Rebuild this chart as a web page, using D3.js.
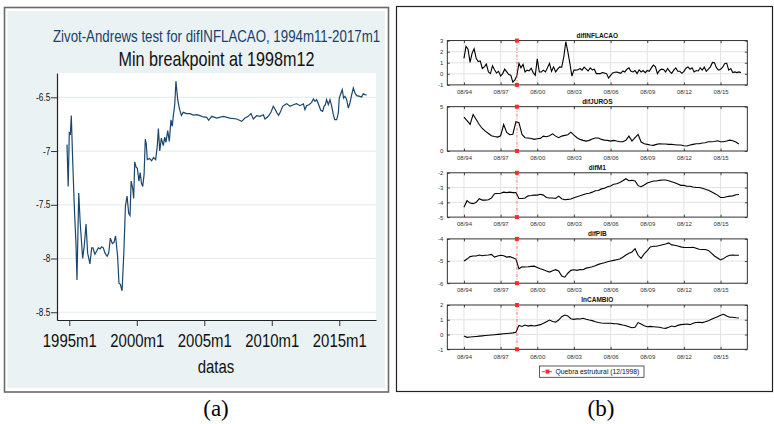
<!DOCTYPE html>
<html>
<head>
<meta charset="utf-8">
<script src="https://cdn.jsdelivr.net/npm/d3@7"></script>
<style>
  body { margin: 0; background: #fff; }
  .narrow { font-family: "Liberation Sans", Arial, sans-serif; }
  .small { font-family: "Liberation Sans", Arial, sans-serif; }
</style>
</head>
<body>
<svg id="fig" width="774" height="424"></svg>
<script>
// ---------- dados do painel (a): estatistica Zivot-Andrews
var zaAnos = [1994.83,1994.92,1995.0,1995.08,1995.15,1995.25,1995.37,1995.5,1995.57,1995.70,1995.81,1995.99,
  1996.11,1996.24,1996.36,1996.53,1996.66,1996.75,1996.90,1997.03,1997.15,1997.28,1997.40,1997.52,1997.65,
  1997.80,1997.92,1998.04,1998.19,1998.31,1998.43,1998.58,1998.68,1998.78,1998.91,1999.04,1999.16,1999.28,
  1999.40,1999.50,1999.58,1999.70,1999.77,1999.85,1999.95,2000.04,2000.16,2000.25,2000.35,2000.44,2000.54,
  2000.63,2000.70,2000.78,2000.95,2001.10,2001.25,2001.40,2001.52,2001.60,2001.70,2001.82,2001.96,2002.07,
  2002.16,2002.29,2002.41,2002.53,2002.63,2002.70,2002.81,2002.90,2003.03,2003.15,2003.30,2003.44,2003.69,
  2003.94,2004.19,2004.43,2004.68,2004.93,2005.18,2005.32,2005.55,2005.92,2006.41,2006.90,2007.40,2007.77,
  2008.01,2008.26,2008.46,2008.63,2008.88,2009.13,2009.37,2009.50,2009.74,2009.94,2010.11,2010.24,2010.36,
  2010.51,2010.66,2010.80,2010.98,2011.10,2011.35,2011.60,2011.84,2012.09,2012.34,2012.46,2012.58,2012.76,
  2012.95,2013.08,2013.20,2013.32,2013.52,2013.62,2013.77,2013.87,2013.97,2014.06,2014.19,2014.31,2014.44,
  2014.56,2014.66,2014.81,2014.93,2015.00,2015.13,2015.22,2015.32,2015.42,2015.55,2015.67,2015.79,2015.92,
  2016.04,2016.16,2016.29,2016.53,2016.66,2016.78,2016.90,2017.03];
var zaEstat = [-6.94,-7.33,-6.83,-6.84,-6.67,-7.08,-7.51,-7.88,-8.20,-7.39,-7.67,-8.00,
  -7.88,-7.68,-7.95,-8.05,-7.90,-7.90,-7.96,-7.93,-7.90,-7.91,-7.89,-7.90,-7.95,
  -7.98,-7.95,-7.81,-7.86,-7.85,-7.79,-7.98,-8.23,-8.24,-8.30,-7.95,-7.51,-7.42,
  -7.58,-7.60,-7.28,-7.35,-7.44,-7.10,-7.15,-7.16,-7.28,-7.20,-7.30,-7.33,-7.22,
  -6.89,-6.93,-7.08,-7.07,-7.09,-7.06,-7.08,-6.95,-6.79,-7.00,-6.88,-6.95,-6.87,
  -6.92,-6.81,-6.91,-6.71,-6.77,-6.68,-6.57,-6.35,-6.52,-6.60,-6.67,-6.64,-6.652,
  -6.652,-6.665,-6.662,-6.671,-6.683,-6.686,-6.714,-6.677,-6.693,-6.677,-6.693,-6.702,-6.724,
  -6.693,-6.677,-6.652,-6.702,-6.671,-6.677,-6.662,-6.702,-6.677,-6.640,-6.584,-6.609,-6.640,
  -6.668,-6.631,-6.584,-6.569,-6.559,-6.584,-6.569,-6.559,-6.578,-6.562,-6.615,-6.578,-6.569,
  -6.547,-6.516,-6.538,-6.522,-6.584,-6.621,-6.631,-6.584,-6.569,-6.522,-6.569,-6.522,-6.584,
  -6.662,-6.708,-6.708,-6.646,-6.507,-6.460,-6.429,-6.507,-6.491,-6.522,-6.600,-6.553,-6.476,
  -6.414,-6.460,-6.485,-6.491,-6.497,-6.466,-6.476,-6.479];
var zaTicksY = [-8.5, -8, -7.5, -7, -6.5];
var zaTicksX = [1995, 2000, 2005, 2010, 2015];

// ---------- dados do painel (b): series a partir de 08/1994
var inicioSerie = 1994 + 7 / 12;
// difINFLACAO bimestral
var difINFLACAO = [1.4,2.48,2.23,1.03,1.86,2.26,1.40,1.10,1.16,0.48,0.63,0.88,0.17,0.02,0.73,0.36,0.08,0.23,
  -0.20,0.02,0.42,0.17,-0.07,-0.13,-0.75,-0.55,-0.14,0.94,0.54,0.85,0.17,0.33,0.26,0.5,0.11,-0.14,1.35,0.17,
  0.17,0.33,0.17,0.54,0.95,0.23,0.63,0.17,0.42,0.63,0.6,1.5,2.9,2.0,0.94,-0.2,0.33,0.33,0.36,0.48,0.33,0.60,
  0.42,0.26,0.54,0.36,0.42,0.02,0.02,0.02,0.11,0.08,0.02,-0.38,-0.14,0.08,0.14,0.17,0.11,0.05,0.26,0.17,0.42,
  0.54,0.23,0.17,0.30,0.02,0.36,0.17,0.30,0.11,0.30,0.23,0.54,0.79,0.63,0.02,0.30,0.42,0.39,0.17,0.48,0.23,
  0.05,0.33,0.54,0.23,0.23,0.05,0.23,0.51,0.63,0.42,0.54,0.17,0.30,0.26,0.54,0.33,0.60,0.23,0.42,0.63,1.03,
  1.0,0.54,0.33,0.42,0.60,0.91,0.97,0.33,0.48,0.11,0.17,0.11,0.17,0.11];
// demais series trimestrais
var difJUROS = [3.81,3.43,3.0,4.11,3.55,2.99,2.54,2.24,1.98,1.72,1.64,1.57,1.72,2.99,2.09,1.83,1.9,3.3,3.2,1.87,
  1.50,1.46,1.42,1.31,1.38,1.42,1.68,1.61,1.72,1.94,1.68,1.50,1.68,1.76,1.83,2.13,1.79,1.50,1.31,1.20,1.12,
  1.20,1.35,1.46,1.46,1.31,1.23,1.20,1.12,1.20,1.12,1.05,1.05,1.20,1.68,1.12,1.50,1.87,1.01,0.82,0.75,0.67,
  0.64,0.75,0.82,0.79,0.79,0.75,0.75,0.71,0.67,0.67,0.60,0.56,0.67,0.75,0.82,0.82,0.90,0.94,1.05,1.05,1.08,
  1.16,1.05,1.05,1.12,1.23,1.16,1.01,0.79];
var difM1 = [-4.34,-3.89,-4.05,-4.09,-4.0,-3.76,-3.85,-3.85,-3.82,-3.71,-3.42,-3.40,-3.38,-3.31,-3.34,-3.31,
  -3.34,-3.34,-3.74,-3.74,-3.71,-3.56,-3.54,-3.51,-3.51,-3.45,-3.51,-3.67,-3.71,-3.71,-3.74,-3.58,-3.76,-3.82,
  -3.80,-3.78,-3.69,-3.62,-3.56,-3.49,-3.42,-3.38,-3.31,-3.22,-3.20,-3.09,-3.05,-2.94,-2.89,-2.78,-2.74,-2.65,
  -2.54,-2.40,-2.54,-2.51,-2.56,-2.87,-2.94,-2.82,-2.69,-2.62,-2.56,-2.56,-2.51,-2.49,-2.49,-2.54,-2.60,-2.67,
  -2.76,-2.85,-2.85,-2.91,-2.91,-2.96,-3.00,-3.00,-3.05,-3.11,-3.18,-3.29,-3.40,-3.51,-3.67,-3.67,-3.62,-3.58,
  -3.56,-3.49,-3.47];
var difPIB = [-5.00,-4.91,-4.80,-4.77,-4.77,-4.73,-4.76,-4.74,-4.73,-4.70,-4.82,-4.77,-4.74,-4.76,-4.82,-4.80,
  -4.85,-4.91,-5.35,-5.26,-5.27,-5.26,-5.24,-5.23,-5.29,-5.35,-5.39,-5.45,-5.50,-5.44,-5.39,-5.45,-5.68,-5.73,
  -5.55,-5.42,-5.39,-5.42,-5.38,-5.39,-5.32,-5.29,-5.26,-5.21,-5.15,-5.11,-5.08,-5.03,-5.00,-4.97,-4.94,-4.91,
  -4.83,-4.73,-4.65,-4.59,-4.44,-4.74,-4.88,-4.67,-4.53,-4.36,-4.33,-4.33,-4.30,-4.26,-4.23,-4.18,-4.27,-4.29,
  -4.32,-4.36,-4.39,-4.39,-4.39,-4.38,-4.42,-4.47,-4.48,-4.48,-4.52,-4.64,-4.77,-4.86,-4.95,-4.89,-4.79,-4.74,
  -4.73,-4.74,-4.74];
var lnCAMBIO = [-0.10,-0.19,-0.17,-0.15,-0.13,-0.11,-0.09,-0.07,-0.05,-0.03,-0.01,0.01,0.03,0.05,0.07,0.09,0.11,
  0.15,0.62,0.55,0.64,0.57,0.62,0.58,0.62,0.67,0.76,0.87,0.98,0.88,0.84,0.98,1.21,1.32,1.26,1.07,1.03,1.07,1.05,
  1.10,1.03,0.98,0.94,0.87,0.82,0.78,0.76,0.76,0.76,0.74,0.73,0.69,0.64,0.60,0.53,0.46,0.49,0.81,0.72,0.60,0.53,
  0.55,0.53,0.51,0.49,0.44,0.42,0.49,0.58,0.53,0.62,0.67,0.69,0.71,0.67,0.76,0.82,0.83,0.81,0.87,0.94,1.03,1.12,
  1.21,1.30,1.37,1.26,1.17,1.17,1.14,1.12];
var rotulosData = ["08/94", "08/97", "08/00", "08/03", "08/06", "08/09", "08/12", "08/15"];
var quebra = 1998 + 11 / 12;   // 12/1998
var legendaTexto = "Quebra estrutural (12/1998)";

var svg = d3.select("#fig");
var estreito = 0.83;   // fonte condensada do Stata

// texto centrado comprimido na horizontal
function textoEstreito(x, y, tam, cor, txt) {
  return svg.append("text").attr("class", "narrow")
    .attr("transform", "translate(" + x + "," + y + ") scale(" + estreito + ",1)")
    .attr("text-anchor", "middle").attr("fill", cor).style("font-size", tam + "px").text(txt);
}

// ================= painel (a) =================
var pa = {l: 57, r: 376, t: 73, b: 320};
var xA = d3.scaleLinear().domain([1994.09, 2017.72]).range([pa.l, pa.r]);
var yA = d3.scaleLinear().domain([-8.572, -6.274]).range([pa.b, pa.t]);

svg.append("rect").attr("x", 4.5).attr("y", 7.5).attr("width", 384).attr("height", 384.5)
  .attr("fill", "#fff").attr("stroke", "#6a6a6a").attr("stroke-width", 1.6);
svg.append("rect").attr("x", 7.5).attr("y", 11).attr("width", 377.5).attr("height", 377)
  .attr("fill", "#eaf2f3");
svg.append("rect").attr("x", pa.l).attr("y", pa.t).attr("width", pa.r - pa.l).attr("height", pa.b - pa.t)
  .attr("fill", "#fff");

svg.append("g").selectAll("line").data(zaTicksY).enter().append("line")
  .attr("x1", pa.l).attr("x2", pa.r)
  .attr("y1", function(d) { return yA(d); }).attr("y2", function(d) { return yA(d); })
  .attr("stroke", "#e6eef0").attr("stroke-width", 1.2);

var axYA = svg.append("g").attr("transform", "translate(" + pa.l + ",0)")
  .call(d3.axisLeft(yA).tickValues(zaTicksY).tickSize(6).tickSizeOuter(0).tickPadding(2)
    .tickFormat(function(d) { return String(d); }));
var axXA = svg.append("g").attr("transform", "translate(0," + pa.b + ")")
  .call(d3.axisBottom(xA).tickValues(zaTicksX).tickSize(6).tickSizeOuter(0).tickPadding(8)
    .tickFormat(function(d) { return d + "m1"; }));
[axYA, axXA].forEach(function(g) {
  g.select(".domain").attr("stroke", "#222").attr("stroke-width", 1.2);
  g.selectAll(".tick line").attr("stroke", "#333").attr("stroke-width", 1);
  g.selectAll("text").attr("class", "narrow").attr("fill", "#111")
    .attr("transform", "scale(" + estreito + ",1)");
});
axYA.selectAll("text").style("font-size", "10px");
axXA.selectAll("text").style("font-size", "18px");

svg.append("path").datum(d3.range(zaAnos.length))
  .attr("fill", "none").attr("stroke", "#1a476f").attr("stroke-width", 1.2)
  .attr("d", d3.line().x(function(i) { return xA(zaAnos[i]); }).y(function(i) { return yA(zaEstat[i]); }));

textoEstreito(216.5, 41.5, 16, "#1a3f6b", "Zivot-Andrews test for difINFLACAO, 1994m11-2017m1");
textoEstreito(216.5, 65.5, 19.5, "#111", "Min breakpoint at 1998m12");
textoEstreito(216, 373, 18, "#111", "datas");

// ================= painel (b) =================
svg.append("rect").attr("x", 396.5).attr("y", 6.5).attr("width", 376).attr("height", 385)
  .attr("fill", "#fff").attr("stroke", "#222").attr("stroke-width", 1.2);

var xB = d3.scaleLinear().domain([1993.22, 2017.77]).range([447.3, 747.3]);
var anosRotulo = rotulosData.map(function(r) {
  var yy = +r.slice(3);
  return (yy > 50 ? 1900 : 2000) + yy + 7 / 12;
});

var paineis = [
  {nome: "difINFLACAO", valores: difINFLACAO, passo: 2, dom: [-1, 3], ticks: [-1, 0, 1, 2, 3]},
  {nome: "difJUROS", valores: difJUROS, passo: 3, dom: [0, 5], ticks: [0, 5]},
  {nome: "difM1", valores: difM1, passo: 3, dom: [-5, -2], ticks: [-5, -4, -3, -2]},
  {nome: "difPIB", valores: difPIB, passo: 3, dom: [-6, -4], ticks: [-6, -5, -4]},
  {nome: "lnCAMBIO", valores: lnCAMBIO, passo: 3, dom: [-1, 2], ticks: [-1, 0, 1, 2]}
];

var vermelho = "#ff2a2a";

paineis.forEach(function(p, i) {
  var top = 40.6 + i * 66.1, h = 44.3, bot = top + h;
  var yB = d3.scaleLinear().domain(p.dom).range([bot, top]);
  var g = svg.append("g");

  // grade
  g.selectAll(".gv").data(anosRotulo).enter().append("line")
    .attr("x1", function(d) { return xB(d); }).attr("x2", function(d) { return xB(d); })
    .attr("y1", top).attr("y2", bot).attr("stroke", "#e2e2e2").attr("stroke-width", 1);
  g.selectAll(".gh").data(p.ticks.slice(1, -1)).enter().append("line")
    .attr("x1", 447.3).attr("x2", 747.3)
    .attr("y1", function(d) { return yB(d); }).attr("y2", function(d) { return yB(d); })
    .attr("stroke", "#e2e2e2").attr("stroke-width", 1);

  // serie
  g.append("path").datum(p.valores)
    .attr("fill", "none").attr("stroke", "#000").attr("stroke-width", 1.1)
    .attr("d", d3.line()
      .x(function(d, k) { return xB(inicioSerie + k * p.passo / 12); })
      .y(function(d) { return yB(d); }));

  // eixos
  var ax = g.append("g").attr("transform", "translate(0," + bot + ")")
    .call(d3.axisBottom(xB).tickValues(anosRotulo).tickSize(-2.5).tickSizeOuter(0).tickPadding(5)
      .tickFormat(function(d, k) { return rotulosData[k]; }));
  var axT = g.append("g").attr("transform", "translate(0," + top + ")")
    .call(d3.axisTop(xB).tickValues(anosRotulo).tickSize(-2.5).tickSizeOuter(0).tickFormat(""));
  var ay = g.append("g").attr("transform", "translate(447.3,0)")
    .call(d3.axisLeft(yB).tickValues(p.ticks).tickSize(-2.5).tickSizeOuter(0).tickPadding(4)
      .tickFormat(function(d) { return String(d); }));
  var ayR = g.append("g").attr("transform", "translate(747.3,0)")
    .call(d3.axisRight(yB).tickValues(p.ticks).tickSize(-2.5).tickSizeOuter(0).tickFormat(""));
  [ax, axT, ay, ayR].forEach(function(a) {
    a.select(".domain").remove();
    a.selectAll(".tick line").attr("stroke", "#222").attr("stroke-width", 0.8);
    a.selectAll("text").attr("class", "small").attr("fill", "#333").style("font-size", "6px");
  });
  g.append("rect").attr("x", 447.3).attr("y", top).attr("width", 300).attr("height", h)
    .attr("fill", "none").attr("stroke", "#1a1a1a").attr("stroke-width", 0.9);

  // quebra estrutural
  g.append("line").attr("x1", xB(quebra)).attr("x2", xB(quebra)).attr("y1", top).attr("y2", bot)
    .attr("stroke", vermelho).attr("stroke-opacity", 0.55).attr("stroke-width", 1.2)
    .attr("stroke-dasharray", "3,1.5,1,1.5");
  g.selectAll(".mk").data([top, bot]).enter().append("rect")
    .attr("x", xB(quebra) - 2).attr("y", function(d) { return d - 2; })
    .attr("width", 4).attr("height", 4).attr("fill", vermelho);

  g.append("text").attr("class", "small").attr("x", 597.3).attr("y", top - 3)
    .attr("text-anchor", "middle").attr("font-weight", "bold").attr("fill", "#111")
    .style("font-size", "6.5px").text(p.nome);
});

// legenda
var lg = svg.append("g");
lg.append("rect").attr("x", 539.5).attr("y", 366).attr("width", 104.5).attr("height", 11.3)
  .attr("fill", "#fff").attr("stroke", "#333").attr("stroke-width", 0.8);
lg.append("line").attr("x1", 542).attr("x2", 553).attr("y1", 371.6).attr("y2", 371.6)
  .attr("stroke", vermelho).attr("stroke-opacity", 0.7).attr("stroke-width", 1.2)
  .attr("stroke-dasharray", "3,1.5,1,1.5");
lg.append("rect").attr("x", 545.5).attr("y", 369.6).attr("width", 4).attr("height", 4).attr("fill", vermelho);
lg.append("text").attr("class", "small").attr("x", 555.5).attr("y", 374.3).attr("fill", "#111")
  .style("font-size", "6.8px").text(legendaTexto);

// legendas das figuras
svg.append("text").attr("x", 216).attr("y", 416).attr("text-anchor", "middle")
  .style("font-family", "'Liberation Serif', 'Times New Roman', serif").style("font-size", "23px")
  .text("(a)");
svg.append("text").attr("x", 601).attr("y", 416).attr("text-anchor", "middle")
  .style("font-family", "'Liberation Serif', 'Times New Roman', serif").style("font-size", "23px")
  .text("(b)");
</script>
</body>
</html>
